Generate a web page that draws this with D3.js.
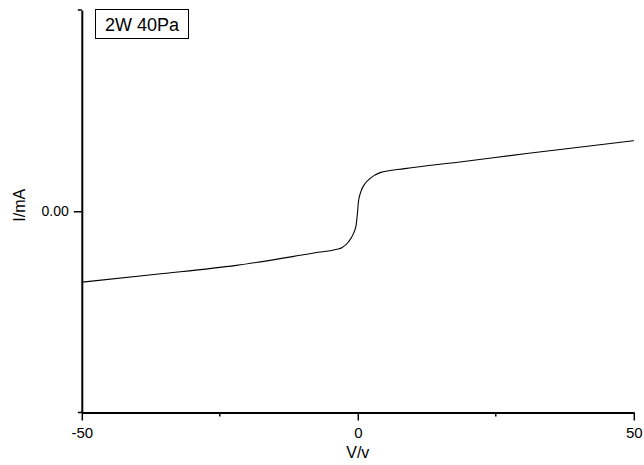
<!DOCTYPE html>
<html>
<head>
<meta charset="utf-8">
<script src="https://cdn.jsdelivr.net/npm/d3@7"></script>
<style>
  body { margin: 0; background: #fff; }
  svg { display: block; font-family: Arial, "Liberation Sans", sans-serif; }
</style>
</head>
<body>
<svg id="chart" width="644" height="465"></svg>
<script>
// I-V curve
const voltage = [-49.9, -36.5, -22.0, -10.45, -7.2, -3.8, -2.9, -1.7, -0.8, -0.31, -0.07, 0.11, 0.54, 1.32, 2.23, 4.04, 8.5, 18.5, 30.6, 50];
const current = [-0.352, -0.313, -0.269, -0.219, -0.204, -0.189, -0.181, -0.153, -0.111, -0.07, -0.011, 0.046, 0.096, 0.138, 0.163, 0.192, 0.212, 0.245, 0.287, 0.351];

const xMajorTicks = [-50, 0, 50];
const xMinorTicks = [-25, 25];
const yMajorTicks = [0];
const yMinorTicks = [-1, 1];
const legendLabel = "2W 40Pa";

const data = voltage.map((v, i) => ({ v, i: current[i] }));

const chart = d3.select("#chart");

const xScale = d3.scaleLinear().domain([-50, 50]).range([81.8, 633.8]);
const yScale = d3.scaleLinear().domain([-1, 1]).range([412.5, 10]);

// axes (plain hyphen for negatives, like the original)
const xAxis = d3.axisBottom(xScale).tickValues(xMajorTicks).tickSize(8).tickSizeOuter(0)
  .tickFormat((d) => String(d)).tickPadding(7);
const yAxis = d3.axisLeft(yScale).tickValues(yMajorTicks).tickSize(8).tickSizeOuter(0)
  .tickFormat((d) => d.toFixed(2)).tickPadding(5);

const gx = chart.append("g").attr("transform", `translate(0, ${yScale(-1)})`).call(xAxis);
const gy = chart.append("g").attr("transform", `translate(${xScale(-50)}, 0)`).call(yAxis);

[gx, gy].forEach((g) => {
  g.select(".domain").attr("stroke", "#000").attr("stroke-width", 2);
  g.selectAll(".tick line").attr("stroke", "#000").attr("stroke-width", 1.5);
  g.selectAll(".tick text").attr("fill", "#000").style("font-family", "Arial, 'Liberation Sans', sans-serif");
});
gx.selectAll(".tick text").style("font-size", "15px");
gy.selectAll(".tick text").style("font-size", "14px");

// minor ticks
chart.append("g").selectAll("line").data(xMinorTicks).enter().append("line")
  .attr("x1", (d) => xScale(d)).attr("x2", (d) => xScale(d))
  .attr("y1", yScale(-1)).attr("y2", yScale(-1) + 4)
  .attr("stroke", "#000").attr("stroke-width", 1.5);

chart.append("g").selectAll("line").data(yMinorTicks).enter().append("line")
  .attr("x1", xScale(-50)).attr("x2", xScale(-50) - 4)
  .attr("y1", (d) => yScale(d)).attr("y2", (d) => yScale(d))
  .attr("stroke", "#000").attr("stroke-width", 1.5);

// curve
const line = d3.line().x((d) => xScale(d.v)).y((d) => yScale(d.i)).curve(d3.curveMonotoneX);

chart.append("path")
  .datum(data)
  .attr("d", line)
  .attr("fill", "none")
  .attr("stroke", "#000")
  .attr("stroke-width", 1.1);

// axis titles
chart.append("text")
  .attr("x", xScale(0))
  .attr("y", 458)
  .attr("text-anchor", "middle")
  .style("font-size", "16px")
  .text("V/v");

chart.append("text")
  .attr("transform", `translate(25, ${yScale(0) - 6}) rotate(-90)`)
  .attr("text-anchor", "middle")
  .style("font-size", "16px")
  .text("I/mA");

// legend box
const legend = chart.append("g");
legend.append("rect")
  .attr("x", 95.5).attr("y", 9.5).attr("width", 93).attr("height", 29)
  .attr("fill", "#fff").attr("stroke", "#000").attr("stroke-width", 1);
legend.append("text")
  .attr("x", 142).attr("y", 31)
  .attr("text-anchor", "middle")
  .style("font-size", "18px")
  .text(legendLabel);
</script>
</body>
</html>
